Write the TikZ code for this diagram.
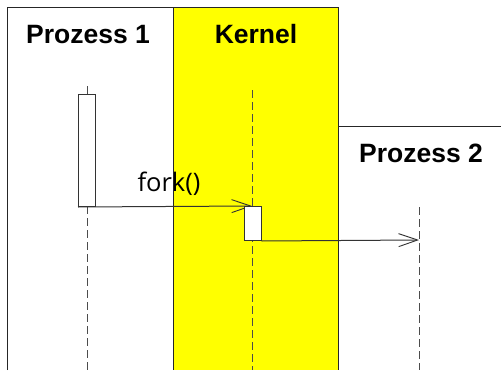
\documentclass[tikz,border=0pt]{standalone}
\usepackage{fontspec}
\setmainfont{Liberation Sans}
\newfontfamily\labelfont{Open Sans}
\usetikzlibrary{arrows.meta}
\definecolor{kernelyellow}{RGB}{255,255,0}
\begin{document}
\begin{tikzpicture}[x=1pt,y=-1pt,
  frame/.style={draw=black!85,line width=1pt},
  header/.style={font=\fontsize{26.5}{30}\selectfont\bfseries,anchor=base},
  lifeline/.style={draw=black!70,line width=1pt,dash pattern=on 8pt off 4pt},
  actbox/.style={draw=black!80,fill=white,line width=1pt,minimum width=17pt,inner sep=0pt},
  msg/.style={draw=black!80,line width=1pt,-{Straight Barb[length=19pt,width=13pt,line width=0.9pt]}},
  lbl/.style={font=\labelfont\fontsize{25.5}{28}\selectfont,anchor=base}]
\useasboundingbox (0,0) rectangle (501,370);
\fill[white] (0,0) rectangle (501,370);
% columns
\fill[kernelyellow] (173,7) rectangle (338,370);
\draw[frame] (7,370) -- (7,7) -- (338,7) -- (338,370);
\draw[frame] (173,7) -- (173,370);
\draw[frame] (338,126) -- (501,126);
% headers
\node[header] (h1) at (88,43) {Prozess 1};
\node[header] (hk) at (256,43) {Kernel};
\node[header] (h2) at (421,162) {Prozess 2};
% lifelines
\coordinate (l1t) at (87,86);
\coordinate (l1b) at (87,370);
\coordinate (lkt) at (252,90);
\coordinate (lkb) at (252,370);
\coordinate (l2t) at (419,207);
\coordinate (l2b) at (419,370);
\draw[lifeline] (l1t) -- (l1b);
\draw[lifeline] (lkt) -- (lkb);
\draw[lifeline] (l2t) -- (l2b);
% message 1
\coordinate (t1) at (252,206);
\node[actbox,minimum height=112pt,anchor=north] (a1) at (87,94) {};
\draw[msg] (a1.south west) -- (t1);
\node[actbox,minimum height=34pt,anchor=north] (ak) at (252.5,206) {};
% message 2
\coordinate (t2) at (419,240);
\draw[msg] (ak.south east) -- (t2);
\node[lbl] (fork) at (169,191.5) {fork()};
\end{tikzpicture}
\end{document}
